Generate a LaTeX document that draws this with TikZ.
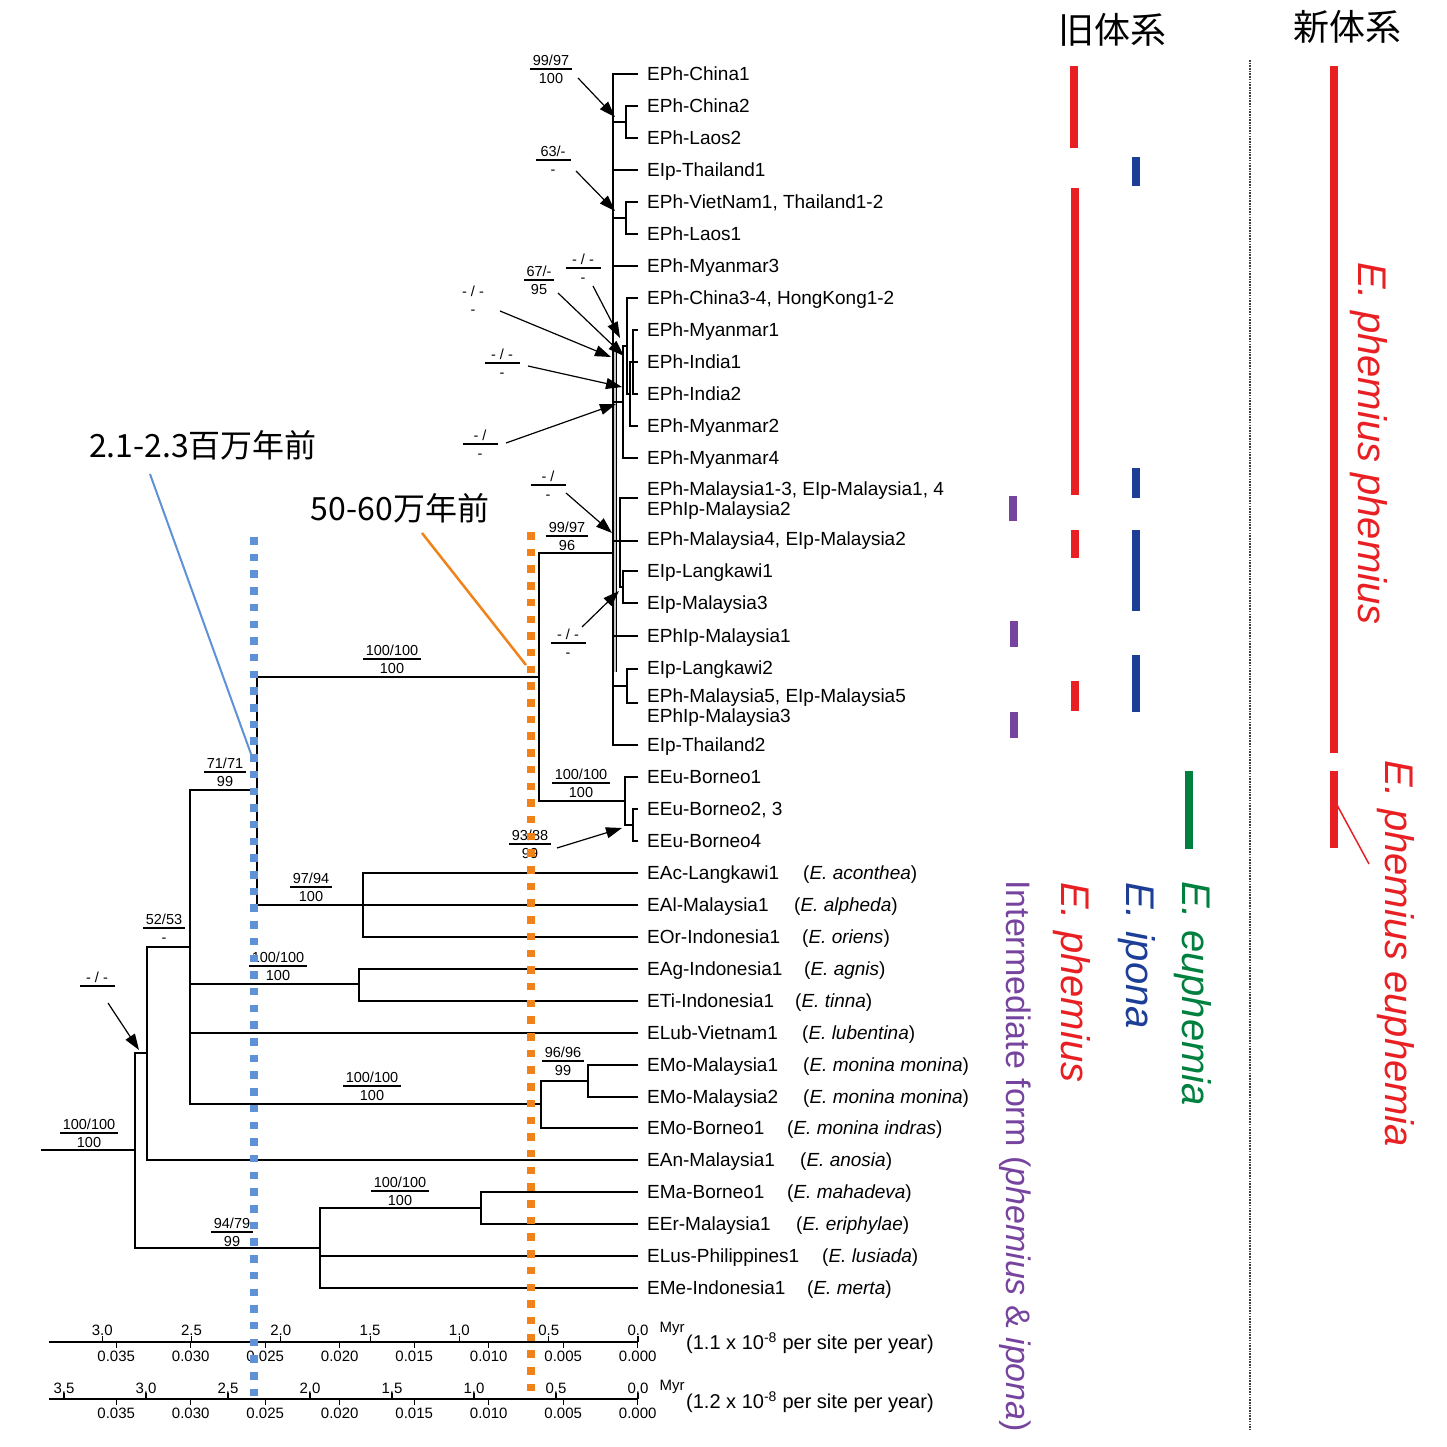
\documentclass[tikz,border=0pt]{standalone}
\usepackage{fontspec}
\setmainfont{Liberation Sans}
\newfontfamily\jpfont{Noto Sans CJK JP}
\usetikzlibrary{arrows.meta}
\definecolor{bred}{RGB}{232,32,36}
\definecolor{bblue}{RGB}{28,62,150}
\definecolor{bgreen}{RGB}{0,128,62}
\definecolor{bpurple}{RGB}{118,68,158}
\definecolor{dblue}{RGB}{95,145,215}
\definecolor{dorange}{RGB}{240,130,25}
\setlength{\arrayrulewidth}{1.2pt}
\newcommand{\bsv}[2]{\begin{tabular}{@{\hspace{2.5pt}}c@{\hspace{2.5pt}}}#1\\[-2pt]\hline\rule{0pt}{14pt}#2\end{tabular}}
\newcommand{\bsw}[2]{\begin{tabular}{@{\hspace{2.5pt}}c@{\hspace{2.5pt}}}\makebox[30pt]{#1}\\[-2pt]\hline\rule{0pt}{14pt}#2\end{tabular}}
\newcommand{\bsn}[2]{\begin{tabular}{@{\hspace{2.5pt}}c@{\hspace{2.5pt}}}\makebox[30pt]{#1}\\[-2pt]\noalign{\vskip1.2pt}\rule{0pt}{14pt}#2\end{tabular}}
\begin{document}
\begin{tikzpicture}[x=1pt,y=-1pt,
  br/.style={line width=1.8pt},
  leaf/.style={anchor=west,inner sep=0pt,font=\fontsize{19}{20}\selectfont,text height=13.7pt,text depth=0pt},
  twoline/.style={anchor=west,inner sep=0pt,font=\fontsize{19}{20}\selectfont,align=left},
  sup/.style={inner sep=0pt,font=\fontsize{14.5}{17}\selectfont},
  arr/.style={line width=1.2pt,-{Triangle[length=16pt,width=11pt]}},
  ticklab/.style={inner sep=0pt,font=\fontsize{15}{17}\selectfont},
  vlab/.style={rotate=-90,anchor=west,inner sep=0pt,font=\fontsize{40}{44}\selectfont\itshape},
]
\useasboundingbox (0,0) rectangle (1447,1447);

% ---------- tree coordinates ----------
\coordinate (stem) at (41,1150);
\coordinate (R) at (135,1150);
\coordinate (A) at (147,1053);
\coordinate (B) at (190,947);
\coordinate (C) at (257,790);
\coordinate (D) at (363,905);
\coordinate (E) at (359,984);
\coordinate (F) at (541,1104);
\coordinate (G) at (588,1081);
\coordinate (H) at (320,1248);
\coordinate (I) at (481,1208);
\coordinate (J) at (539,677);
\coordinate (K) at (625,801);
\coordinate (Lb) at (633,825);
\coordinate (P) at (613,553);
\coordinate (Ncl) at (626,122);
\coordinate (Nvl) at (626,218);
\coordinate (Q1) at (633,362);
\coordinate (Q2) at (630,394);
\coordinate (Q3) at (627,346);
\coordinate (Q4) at (623,402);
\coordinate (M1) at (623,587);
\coordinate (M2) at (620,541);
\coordinate (Nlm) at (627,686);
\foreach \i/\yy in {1/74,2/106,3/138,4/170,5/202,6/234,7/266,8/298,9/330,10/362,11/394,12/426,13/458,14/498,15/541,16/571,17/603,18/636,19/669,20/703,21/745,22/777,23/809,24/841,25/873,26/905,27/937,28/969,29/1001,30/1033,31/1065,32/1097,33/1128,34/1160,35/1192,36/1224,37/1256,38/1288}
  \coordinate (t\i) at (638,\yy);

% gray band of near-zero branches
\fill[gray!45] (613,350) rectangle (616.5,672);
\draw[line width=1pt] (616.5,350) -- (616.5,672);

% ---------- branches ----------
\draw[br] (stem) -- (R);
\foreach \p/\c in {R/A,R/H,A/B,A/t34,B/C,B/E,B/t30,B/F,C/J,C/D,D/t25,D/t26,D/t27,E/t28,E/t29,F/G,F/t33,G/t31,G/t32,H/I,H/t37,H/t38,I/t35,I/t36,J/P,J/K,K/t22,K/Lb,Lb/t23,Lb/t24,P/t1,P/Ncl,P/t4,P/Nvl,P/t7,P/Q4,P/M2,P/t18,P/Nlm,P/t21,Ncl/t2,Ncl/t3,Nvl/t5,Nvl/t6,Q4/Q3,Q4/t13,Q3/t8,Q3/Q2,Q2/Q1,Q2/t12,Q1/t9,Q1/t10,Q1/t11,M2/t14,M2/t15,M2/M1,M1/t16,M1/t17,Nlm/t19,Nlm/t20}
  \draw[br] (\p) |- (\c);

% ---------- leaf labels ----------
\node[leaf] (l1) at (647,74) {EPh-China1};
\node[leaf] (l2) at (647,106) {EPh-China2};
\node[leaf] (l3) at (647,138) {EPh-Laos2};
\node[leaf] (l4) at (647,170) {EIp-Thailand1};
\node[leaf] (l5) at (647,202) {EPh-VietNam1, Thailand1-2};
\node[leaf] (l6) at (647,234) {EPh-Laos1};
\node[leaf] (l7) at (647,266) {EPh-Myanmar3};
\node[leaf] (l8) at (647,298) {EPh-China3-4, HongKong1-2};
\node[leaf] (l9) at (647,330) {EPh-Myanmar1};
\node[leaf] (l10) at (647,362) {EPh-India1};
\node[leaf] (l11) at (647,394) {EPh-India2};
\node[leaf] (l12) at (647,426) {EPh-Myanmar2};
\node[leaf] (l13) at (647,458) {EPh-Myanmar4};
\node[twoline] (l14) at (647,501) {EPh-Malaysia1-3, EIp-Malaysia1, 4\\EPhIp-Malaysia2};
\node[leaf] (l15) at (647,539) {EPh-Malaysia4, EIp-Malaysia2};
\node[leaf] (l16) at (647,571) {EIp-Langkawi1};
\node[leaf] (l17) at (647,603) {EIp-Malaysia3};
\node[leaf] (l18) at (647,636) {EPhIp-Malaysia1};
\node[leaf] (l19) at (647,668) {EIp-Langkawi2};
\node[twoline] (l20) at (647,708) {EPh-Malaysia5, EIp-Malaysia5\\EPhIp-Malaysia3};
\node[leaf] (l21) at (647,745) {EIp-Thailand2};
\node[leaf] (l22) at (647,777) {EEu-Borneo1};
\node[leaf] (l23) at (647,809) {EEu-Borneo2, 3};
\node[leaf] (l24) at (647,841) {EEu-Borneo4};
\node[leaf] (l25) at (647,873) {EAc-Langkawi1};
\node[leaf] (l26) at (647,905) {EAl-Malaysia1};
\node[leaf] (l27) at (647,937) {EOr-Indonesia1};
\node[leaf] (l28) at (647,969) {EAg-Indonesia1};
\node[leaf] (l29) at (647,1001) {ETi-Indonesia1};
\node[leaf] (l30) at (647,1033) {ELub-Vietnam1};
\node[leaf] (l31) at (647,1065) {EMo-Malaysia1};
\node[leaf] (l32) at (647,1097) {EMo-Malaysia2};
\node[leaf] (l33) at (647,1128) {EMo-Borneo1};
\node[leaf] (l34) at (647,1160) {EAn-Malaysia1};
\node[leaf] (l35) at (647,1192) {EMa-Borneo1};
\node[leaf] (l36) at (647,1224) {EEr-Malaysia1};
\node[leaf] (l37) at (647,1256) {ELus-Philippines1};
\node[leaf] (l38) at (647,1288) {EMe-Indonesia1};
% species names
\node[leaf] (s25) at (803,873) {(\textit{E. aconthea})};
\node[leaf] (s26) at (794,905) {(\textit{E. alpheda})};
\node[leaf] (s27) at (802,937) {(\textit{E. oriens})};
\node[leaf] (s28) at (804,969) {(\textit{E. agnis})};
\node[leaf] (s29) at (795,1001) {(\textit{E. tinna})};
\node[leaf] (s30) at (802,1033) {(\textit{E. lubentina})};
\node[leaf] (s31) at (803,1065) {(\textit{E. monina monina})};
\node[leaf] (s32) at (803,1097) {(\textit{E. monina monina})};
\node[leaf] (s33) at (787,1128) {(\textit{E. monina indras})};
\node[leaf] (s34) at (800,1160) {(\textit{E. anosia})};
\node[leaf] (s35) at (787,1192) {(\textit{E. mahadeva})};
\node[leaf] (s36) at (796,1224) {(\textit{E. eriphylae})};
\node[leaf] (s37) at (822,1256) {(\textit{E. lusiada})};
\node[leaf] (s38) at (807,1288) {(\textit{E. merta})};

% ---------- support values ----------
\node[sup] (b1) at (551,71) {\bsv{99/97}{100}};
\node[sup] (b2) at (553,162) {\bsw{63/-}{-}};
\node[sup] (b3) at (583,270) {\bsw{- / -}{-}};
\node[sup] (b4) at (539,282) {\bsv{67/-}{95}};
\node[sup] (b5) at (473,302) {\bsn{- / -}{-}};
\node[sup] (b6) at (502,365) {\bsw{- / -}{-}};
\node[sup] (b7) at (480,446) {\bsw{- /}{-}};
\node[sup] (b8) at (548,487) {\bsw{- /}{-}};
\node[sup] (b9) at (567,538) {\bsv{99/97}{96}};
\node[sup] (b10) at (568,645) {\bsw{- / -}{-}};
\node[sup] (b11) at (392,661) {\bsv{100/100}{100}};
\node[sup] (b12) at (581,785) {\bsv{100/100}{100}};
\node[sup] (b13) at (530,846) {\bsv{93/88}{99}};
\node[sup] (b14) at (225,774) {\bsv{71/71}{99}};
\node[sup] (b15) at (311,889) {\bsv{97/94}{100}};
\node[sup] (b16) at (164,930) {\bsv{52/53}{-}};
\node[sup] (b17) at (278,968) {\bsv{100/100}{100}};
\node[sup] (b18) at (97,988) {\bsw{\hspace{3pt}- / -\hspace{3pt}}{}};
\node[sup] (b19) at (372,1088) {\bsv{100/100}{100}};
\node[sup] (b20) at (563,1063) {\bsv{96/96}{99}};
\node[sup] (b21) at (89,1135) {\bsv{100/100}{100}};
\node[sup] (b22) at (400,1193) {\bsv{100/100}{100}};
\node[sup] (b23) at (232,1234) {\bsv{94/79}{99}};

% ---------- arrows ----------
\coordinate (a1s) at (578,78);   \coordinate (a1e) at (615,117);
\coordinate (a2s) at (576,171);  \coordinate (a2e) at (615,211);
\coordinate (a3s) at (593,286);  \coordinate (a3e) at (620,338);
\coordinate (a4s) at (558,293);  \coordinate (a4e) at (624,356);
\coordinate (a5s) at (500,311);  \coordinate (a5e) at (611,357);
\coordinate (a6s) at (528,366);  \coordinate (a6e) at (622,387);
\coordinate (a7s) at (506,443);  \coordinate (a7e) at (616,404);
\coordinate (a8s) at (566,493);  \coordinate (a8e) at (612,533);
\coordinate (a9s) at (582,627);  \coordinate (a9e) at (619,591);
\coordinate (a10s) at (557,848); \coordinate (a10e) at (622,828);
\coordinate (a11s) at (108,1003); \coordinate (a11e) at (139,1050);
\foreach \k in {1,...,11} \draw[arr] (a\k s) -- (a\k e);

% ---------- axes ----------
\coordinate (x1a) at (49,1342); \coordinate (x1b) at (638,1342);
\coordinate (x2a) at (49,1399); \coordinate (x2b) at (638,1399);
\draw[line width=1.2pt] (x1a) -- (x1b);
\draw[line width=1.2pt] (x2a) -- (x2b);
\foreach \i/\lab in {0/0.0,1/0.5,2/1.0,3/1.5,4/2.0,5/2.5,6/3.0}{
  \draw[line width=1.2pt] ({638-89.3*\i},1342) -- ({638-89.3*\i},1336);
  \node[ticklab] (ma\i) at ({638-89.3*\i},1330) {\lab};
}
\foreach \i/\lab in {0/0.0,1/0.5,2/1.0,3/1.5,4/2.0,5/2.5,6/3.0,7/3.5}{
  \draw[line width=1.2pt] ({638-82*\i},1399) -- ({638-82*\i},1393);
  \node[ticklab] (mb\i) at ({638-82*\i},1388) {\lab};
}
\foreach \i/\lab in {0/0.000,1/0.005,2/0.010,3/0.015,4/0.020,5/0.025,6/0.030,7/0.035}{
  \draw[line width=1.2pt] ({637.7-74.5*\i},1342) -- ({637.7-74.5*\i},1348);
  \node[ticklab] (da\i) at ({637.7-74.5*\i},1356) {\lab};
  \draw[line width=1.2pt] ({637.7-74.5*\i},1399) -- ({637.7-74.5*\i},1405);
  \node[ticklab] (db\i) at ({637.7-74.5*\i},1413) {\lab};
}
\node[ticklab] (myr1) at (672,1329) {Myr};
\node[ticklab] (myr2) at (672,1387) {Myr};
\node[anchor=west,inner sep=0pt,font=\fontsize{20}{22}\selectfont] (rate1) at (686,1343) {(1.1 x 10\textsuperscript{-8} per site per year)};
\node[anchor=west,inner sep=0pt,font=\fontsize{20}{22}\selectfont] (rate2) at (686,1402) {(1.2 x 10\textsuperscript{-8} per site per year)};

% ---------- time markers ----------
\draw[dblue,line width=8pt,dash pattern=on 7.5pt off 9.2pt] (254,537) -- (254,1397);
\draw[dorange,line width=8pt,dash pattern=on 7.5pt off 9.2pt] (530.5,532) -- (530.5,1397);
\node[inner sep=0pt,font=\jpfont\fontsize{32}{34}\selectfont] (tblue) at (203,445) {2.1-2.3百万年前};
\node[inner sep=0pt,font=\jpfont\fontsize{32}{34}\selectfont] (torange) at (400,508) {50-60万年前};
\coordinate (cb1) at (150,474); \coordinate (cb2) at (251,754);
\coordinate (co1) at (422,533); \coordinate (co2) at (526,665);
\draw[dblue,line width=2pt] (cb1) -- (cb2);
\draw[dorange,line width=2.5pt] (co1) -- (co2);

% ---------- classification panels ----------
\node[inner sep=0pt,font=\jpfont\fontsize{36}{38}\selectfont] (old) at (1112,30) {旧体系};
\node[inner sep=0pt,font=\jpfont\fontsize{36}{38}\selectfont] (new) at (1347,27) {新体系};
\draw[black!75,line width=1.3pt,dash pattern=on 1.6pt off 1.1pt] (1250,60) -- (1250,1430);
% old system bars
\fill[bred] (1070,66) rectangle (1078,148);
\fill[bred] (1071,188) rectangle (1079,495);
\fill[bred] (1071,530) rectangle (1079,558);
\fill[bred] (1071,681) rectangle (1079,711);
\fill[bblue] (1132,157) rectangle (1140,186);
\fill[bblue] (1132,468) rectangle (1140,498);
\fill[bblue] (1132,530) rectangle (1140,611);
\fill[bblue] (1132,655) rectangle (1140,712);
\fill[bpurple] (1009,496) rectangle (1017,521);
\fill[bpurple] (1010,621) rectangle (1018,647);
\fill[bpurple] (1010,712) rectangle (1018,738);
\fill[bgreen] (1185,771) rectangle (1193,849);
% new system bars
\fill[bred] (1330,66) rectangle (1338,753);
\fill[bred] (1330,771) rectangle (1338,848);
\coordinate (pe1) at (1337,805); \coordinate (pe2) at (1369,864);
\draw[bred,line width=1.5pt] (pe1) -- (pe2);

% ---------- vertical names ----------
\node[vlab,text=bred] (nphph) at (1369,262) {E. phemius phemius};
\node[vlab,text=bred] (npheu) at (1396,760) {E. phemius euphemia};
\node[vlab,text=bgreen] (neu) at (1193,881) {E. euphemia};
\node[vlab,text=bblue] (nip) at (1137,882) {E. ipona};
\node[vlab,text=bred] (nph) at (1072,882) {E. phemius};
\node[rotate=-90,anchor=west,inner sep=0pt,font=\fontsize{34}{38}\selectfont,text=bpurple] (nint) at (1015,880) {Intermediate form (\textit{phemius} \& \textit{ipona})};
\end{tikzpicture}
\end{document}
